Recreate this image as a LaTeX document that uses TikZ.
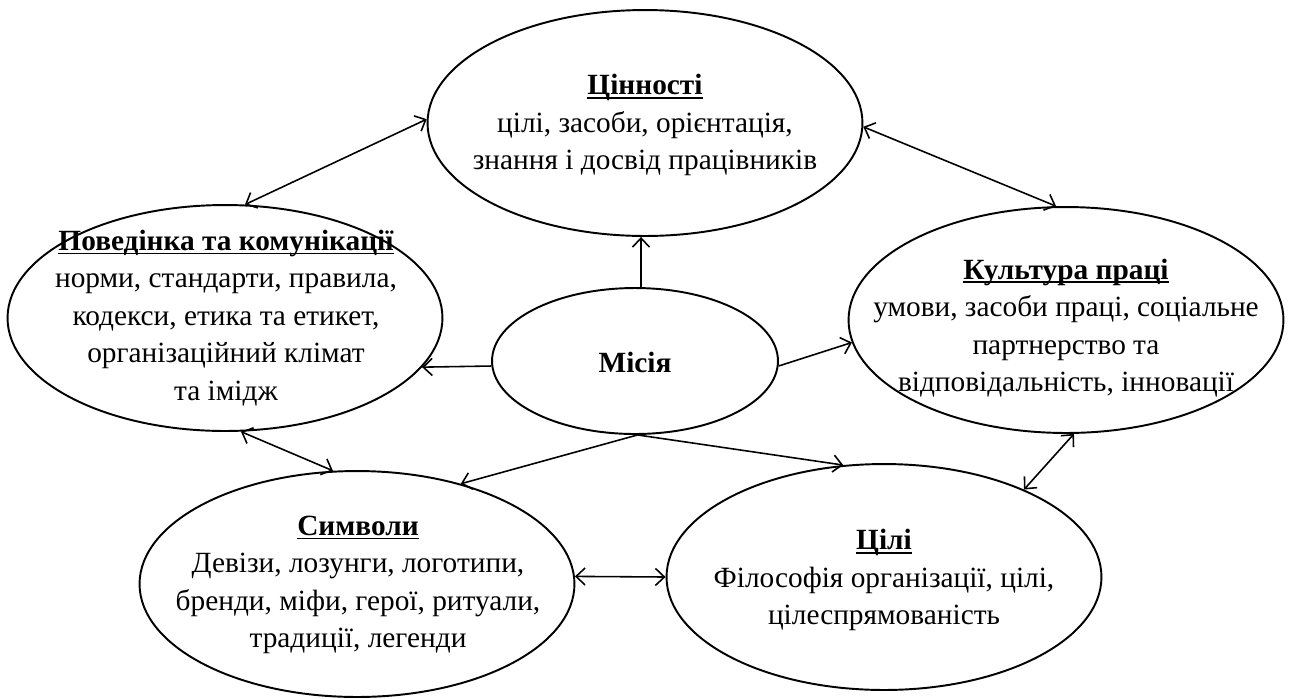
\documentclass[tikz,border=0pt]{standalone}
\usepackage{fontspec}
\setmainfont{Liberation Serif}
\usetikzlibrary{shapes.geometric,arrows.meta}
% bold heading with a Word-like underline that runs close under the baseline
\newcommand{\headline}[1]{{\bfseries\setbox0\hbox{#1}\rlap{\rule[-2.2pt]{\wd0}{1pt}}\box0}}
\begin{document}
\begin{tikzpicture}[x=0.02cm,y=-0.02cm,
  ell/.style={ellipse, draw, line width=1.1pt, inner sep=0pt},
  bigell/.style={ell, minimum width=8.7cm, minimum height=4.52cm},
  smallell/.style={ell, minimum width=5.72cm, minimum height=2.92cm},
  txt/.style={align=center, inner sep=0pt, font=\fontsize{16.7}{21.3}\selectfont},
  tip/.tip={Straight Barb[length=1.8mm,width=3.4mm]},
  both/.style={line width=0.9pt, tip-tip},
  onew/.style={line width=0.9pt, -tip}]
\useasboundingbox (0,0) rectangle (1292,698);

% ellipses
\node[bigell]   (cin) at (645,123) {};
\node[bigell]   (pov) at (225,318) {};
\node[bigell]   (kul) at (1066,320) {};
\node[smallell] (mis) at (635,361) {};
\node[bigell]   (sym) at (357,584) {};
\node[bigell]   (cil) at (884,577) {};

% texts
\node[txt] (cin-t) at (645,125) {\headline{Цінності}\\цілі, засоби, орієнтація,\\знання і досвід працівників};
\node[txt] (pov-t) at (226,318) {\headline{Поведінка та комунікації}\\норми, стандарти, правила,\\кодекси, етика та етикет,\\організаційний клімат\\та імідж};
\node[txt] (kul-t) at (1066,328) {\headline{Культура праці}\\умови, засоби праці, соціальне\\партнерство та\\відповідальність, інновації};
\node[txt] (mis-t) at (635,362) {\bfseries Місія};
\node[txt] (sym-t) at (358,585) {\headline{Символи}\\Девізи, лозунги, логотипи,\\бренди, міфи, герої, ритуали,\\традиції, легенди};
\node[txt] (cil-t) at (884,580) {\headline{Цілі}\\Філософія організації, цілі,\\цілеспрямованість};

% connectors
\draw[both] (cin.179) -- (pov.80);
\draw[both] (cin.359) -- (kul.95);
\draw[onew] ([xshift=0.12cm]mis.north) -- ([xshift=0.12cm]mis.north |- cin.south);
\draw[onew] (mis.182) -- (pov.346);
\draw[onew] (mis.358) -- (kul.186);
\draw[onew] (mis.272) -- (sym.44);
\draw[onew] (mis.272) -- (cil.110);
\draw[both] (pov.278) -- (sym.102);
\draw[both] (kul.274) -- (cil.32);
\draw[both] (sym.2) -- (cil.180);
\end{tikzpicture}
\end{document}
